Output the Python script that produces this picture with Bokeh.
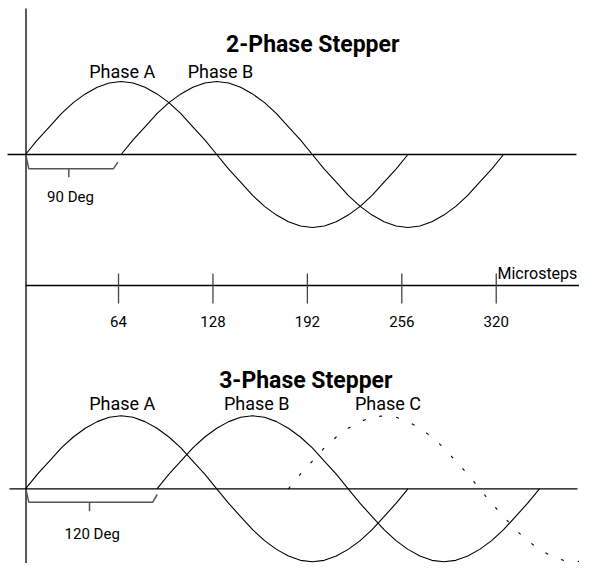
from bokeh.plotting import figure
from bokeh.models import Range1d
from bokeh.embed import file_html
from bokeh.resources import INLINE
from bokeh.core.properties import value

# ---------------- data ----------------
# one full electrical cycle, sampled every 8 microsteps (percent of peak current)
STEPS = [0, 8, 16, 24, 32, 40, 48, 56, 64, 72, 80, 88, 96, 104, 112, 120, 128,
         136, 144, 152, 160, 168, 176, 184, 192, 200, 208, 216, 224, 232, 240, 248, 256]
CURRENT = [0, 20, 38, 56, 71, 83, 92, 98, 100, 98, 92, 83, 71, 56, 38, 20, 0,
           -20, -38, -56, -71, -83, -92, -98, -100, -98, -92, -83, -71, -56, -38, -20, 0]

TWO_PHASE_NAMES = ["Phase A", "Phase B"]
TWO_PHASE_OFFSETS = [0, 64]            # microsteps (90 deg)
THREE_PHASE_NAMES = ["Phase A", "Phase B", "Phase C"]
THREE_PHASE_OFFSETS = [0, 88, 176]     # microsteps (120 deg)

TICK_STEPS = [64, 128, 192, 256, 320]
TICK_LABELS = ["64", "128", "192", "256", "320"]

# ---------------- layout ----------------
W, H = 579, 563
PAGE = 0
PX = 1.494           # px per microstep for the waveforms
X0 = 25              # x of microstep 0
RPX = 1.4754         # ruler scale
RX0 = 23.6
AMP = 0.73           # px per percent
TOP_BASE = 154
BOT_BASE = 488.3

FONT = "Roboto"

xs = -(X0 - PAGE) / PX
rs = -(RX0 - PAGE) / RPX
p = figure(width=W, height=H, output_backend="svg", toolbar_location=None,
           x_range=Range1d(xs, xs + W / PX), y_range=Range1d(PAGE + H, PAGE),
           x_axis_location=None, y_axis_location=None, min_border=0,
           outline_line_color=None)
p.xgrid.visible = False
p.ygrid.visible = False
p.background_fill_color = "white"
p.border_fill_color = "white"
p.extra_x_ranges = {"ruler": Range1d(rs, rs + W / RPX),
                    "px": Range1d(PAGE, PAGE + W)}
p.extra_y_ranges = {
    "top": Range1d((TOP_BASE - (PAGE + H)) / AMP, (TOP_BASE - PAGE) / AMP),
    "bot": Range1d((BOT_BASE - (PAGE + H)) / AMP, (BOT_BASE - PAGE) / AMP),
}

# axes lines (pixel coordinates)
p.segment(x0=[25.5], y0=[8], x1=[25.5], y1=[PAGE + H], x_range_name="px",
          line_color="black", line_width=1.3)
p.segment(x0=[7, 9, 25], y0=[TOP_BASE, BOT_BASE, 285], x1=[576, 577, 595],
          y1=[TOP_BASE, BOT_BASE, 285], x_range_name="px",
          line_color="black", line_width=1.3)

# waveforms
for off in TWO_PHASE_OFFSETS:
    p.line([s + off for s in STEPS], CURRENT, y_range_name="top",
           line_color="black", line_width=1.1)
for i, off in enumerate(THREE_PHASE_OFFSETS):
    dash = "3 14" if i == 2 else "solid"
    p.line([s + off for s in STEPS], CURRENT, y_range_name="bot",
           line_color="black", line_width=1.1, line_dash=dash)

# ruler ticks
p.segment(x0=TICK_STEPS, y0=[273] * 5, x1=TICK_STEPS, y1=[303] * 5,
          x_range_name="ruler", line_color="#444444", line_width=1.3)
p.text(x=TICK_STEPS, y=[320.7] * 5, text=TICK_LABELS, x_range_name="ruler",
       text_align="center", text_baseline="alphabetic",
       text_font=value(FONT), text_font_size="15px", text_color="black")
p.text(x=[497], y=[273.3], text=["Microsteps"], x_range_name="px",
       text_align="left", text_baseline="alphabetic",
       text_font=value(FONT), text_font_size="16px", text_color="black")

# brackets
def bracket(x_end_px, base, low, tip, tick_x, tick_low):
    p.line([25.5, 28.3, x_end_px - 4.5, x_end_px], [base + 1, low, low, tip],
           x_range_name="px", line_color="#555555", line_width=1.5)
    p.segment(x0=[tick_x], y0=[low], x1=[tick_x], y1=[tick_low],
              x_range_name="px", line_color="#555555", line_width=1.5)

bracket(117.3, TOP_BASE, 168.3, 161.7, 68.3, 176.7)
bracket(156.7, BOT_BASE, 501.7, 494, 89, 510.7)

# texts
def label(x, y, t, size="18px", style="normal"):
    p.text(x=[x], y=[y], text=[t], x_range_name="px", text_align="center",
           text_baseline="alphabetic", text_font=value(FONT),
           text_font_size=size, text_font_style=style, text_color="black")

label(312.2, 44.3, "2-Phase Stepper", "23px", "bold")
label(121.7, 70.7, TWO_PHASE_NAMES[0])
label(220, 70.7, TWO_PHASE_NAMES[1])
label(70, 196.7, "90 Deg", "15px")

label(305.3, 380, "3-Phase Stepper", "23px", "bold")
label(121.8, 402.7, THREE_PHASE_NAMES[0])
label(256.3, 402.7, THREE_PHASE_NAMES[1])
label(387.5, 402.7, THREE_PHASE_NAMES[2])
label(91.7, 533.3, "120 Deg", "15px")

open("out.html", "w").write(file_html(p, INLINE))
